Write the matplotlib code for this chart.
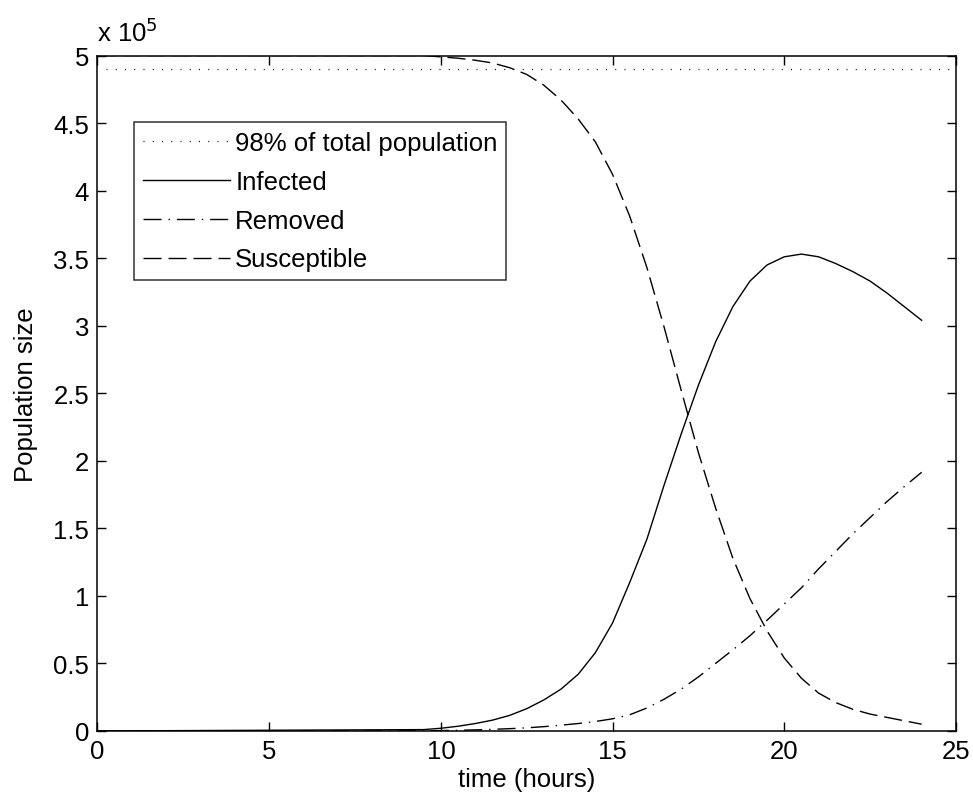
import matplotlib
matplotlib.use("Agg")
import matplotlib.pyplot as plt

# time (hours)
t = [0, 9.5, 10, 10.5, 11, 11.5, 12, 12.5, 13, 13.5, 14, 14.5, 15, 15.5, 16,
     16.5, 17, 17.5, 18, 18.5, 19, 19.5, 20, 20.5, 21, 21.5, 22, 22.5, 23, 23.5, 24]

# values in units of 10^5
infected = [0, 0.01, 0.02, 0.035, 0.055, 0.08, 0.115, 0.165, 0.23, 0.31, 0.42, 0.58,
            0.80, 1.10, 1.42, 1.82, 2.20, 2.56, 2.88, 3.14, 3.33, 3.45, 3.51, 3.53,
            3.51, 3.46, 3.40, 3.33, 3.24, 3.14, 3.04]
removed = [0, 0.0, 0.003, 0.005, 0.008, 0.012, 0.017, 0.023, 0.032, 0.043, 0.055,
           0.07, 0.09, 0.12, 0.17, 0.235, 0.31, 0.40, 0.50, 0.60, 0.705, 0.82, 0.94,
           1.06, 1.20, 1.33, 1.46, 1.58, 1.70, 1.81, 1.915]
susceptible = [5.0, 5.0, 4.99, 4.98, 4.965, 4.945, 4.91, 4.86, 4.78, 4.67, 4.53,
               4.36, 4.12, 3.81, 3.43, 2.99, 2.52, 2.06, 1.65, 1.28, 0.98, 0.74,
               0.54, 0.39, 0.28, 0.21, 0.16, 0.125, 0.10, 0.075, 0.05]
threshold = 4.9  # 98% of total population (5 x 10^5)

xticks = [0, 5, 10, 15, 20, 25]
yticks = [0, 0.5, 1, 1.5, 2, 2.5, 3, 3.5, 4, 4.5, 5]
ytick_labels = ["0", "0.5", "1", "1.5", "2", "2.5", "3", "3.5", "4", "4.5", "5"]

FS = 18.5
plt.rcParams['font.family'] = ['Liberation Sans', 'DejaVu Sans']
plt.rcParams['font.size'] = FS

fig = plt.figure(figsize=(9.73, 8.04), dpi=100)
ax = fig.add_axes([0.1002, 0.0896, 0.8823, 0.8401])

ax.plot([0.25, 25], [threshold, threshold], color='black', lw=0.9,
        linestyle=(0, (0.8, 6.6)), label='98% of total population')
ax.plot(t, infected, color='black', lw=1.0, linestyle='-', label='Infected')
ax.plot(t, removed, color='black', lw=1.0, linestyle=(0, (13, 5, 1, 5)), label='Removed')
ax.plot(t, susceptible, color='black', lw=1.0, linestyle=(0, (13, 5)), label='Susceptible')

ax.set_xlim(0, 25)
ax.set_ylim(0, 5)
ax.set_xticks(xticks)
ax.set_xticklabels([str(v) for v in xticks])
ax.set_yticks(yticks)
ax.set_yticklabels(ytick_labels)
ax.tick_params(direction='in', length=6.5, width=1.0, top=True, right=True,
               labelsize=FS, pad=6)
for s in ax.spines.values():
    s.set_linewidth(1.1)

ax.set_xlabel('time (hours)', fontsize=FS, labelpad=3)
ax.set_ylabel('Population size', fontsize=FS, labelpad=11)
ax.text(0.0, 1.014, r'x 10$^5$', transform=ax.transAxes, fontsize=FS,
        ha='left', va='bottom')

leg = ax.legend(loc='upper left', bbox_to_anchor=(0.0425, 0.9015), frameon=True,
                fancybox=False, shadow=False, handlelength=3.4, handletextpad=0.2,
                labelspacing=0.58, borderpad=0.34, borderaxespad=0.0, fontsize=FS)
leg.get_frame().set_edgecolor('black')
leg.get_frame().set_linewidth(1.1)

fig.savefig('out.png', dpi=100, facecolor='white')
